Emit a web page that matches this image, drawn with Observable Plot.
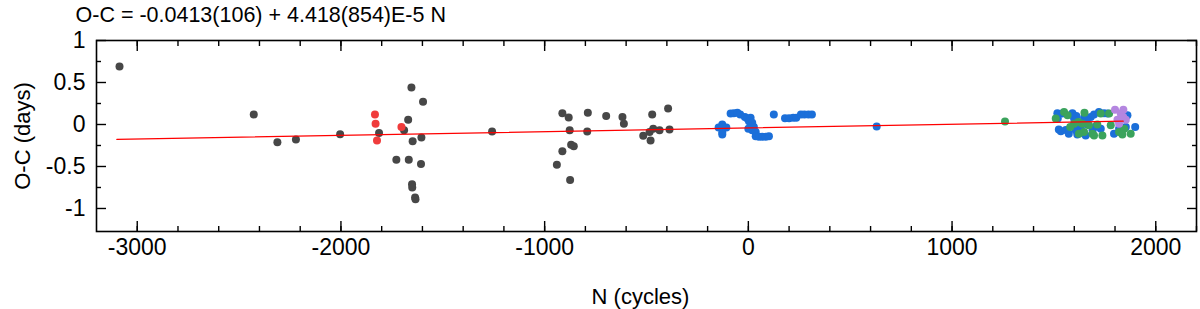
<!DOCTYPE html>
<html>
<head>
<meta charset="utf-8">
<script src="https://cdn.jsdelivr.net/npm/d3@7"></script>
<script src="https://cdn.jsdelivr.net/npm/@observablehq/plot@0.6"></script>
<style>
  html, body { margin: 0; padding: 0; background: white; }
  svg { display: block; }
</style>
</head>
<body>
<div id="chart"></div>
<script>
const titleText = "O-C = -0.0413(106) + 4.418(854)E-5 N";
const xLabel = "N (cycles)";
const yLabel = "O-C (days)";

const xMajor = [-3000, -2000, -1000, 0, 1000, 2000];
const xMinor = [-3000,-2800,-2600,-2400,-2200,-2000,-1800,-1600,-1400,-1200,-1000,-800,-600,-400,-200,0,200,400,600,800,1000,1200,1400,1600,1800,2000,2200];
const yMajor = [-1, -0.5, 0, 0.5, 1];
const yMinor = [-0.75, -0.25, 0.25, 0.75];

// fit coefficients (from title) and its extent in N
const fitIntercept = -0.0413;
const fitSlope = 4.418e-5;
const fitN = [-3100, 1840];

const grayN = [-3087,-2428,-2312,-2221,-2004,-1813,-1728,-1690,-1670,-1667,-1654,-1648,-1651,-1650,-1636,-1634,-1597,-1605,-1607,-1258,-913,-882,-877,-870,-857,-913,-940,-875,-788,-791,-698,-618,-611,-516,-480,-485,-467,-472,-436,-394,-387];
const grayOC = [0.69,0.12,-0.21,-0.18,-0.115,-0.10,-0.42,-0.07,0.055,-0.42,0.44,-0.20,-0.71,-0.75,-0.87,-0.89,0.27,-0.155,-0.47,-0.083,0.135,0.083,-0.07,-0.24,-0.26,-0.32,-0.48,-0.66,0.14,-0.083,0.10,0.09,0.01,-0.135,-0.19,-0.09,-0.05,0.12,-0.07,0.19,-0.06];

const redN = [-1833,-1830,-1823,-1703];
const redOC = [0.12,0.01,-0.19,-0.03];

const blueN = [-128,-146,-108,-128,-128,-128,-87,-71,-54,-40,-17,-5,11,3,19,11,27,19,36,0,36,52,68,85,101,125,180,200,220,235,258,275,295,312,630,
  1517,1519,1524,1534,1558,1573,1591,1599,1607,1615,1648,1656,1681,1697,1721,1746,1705,1730,1763,1795,1820,1853,1861,1899,1632,1665,1540,1610,1660,1690];
const blueOC = [0.0,-0.035,-0.035,-0.095,-0.035,-0.12,0.13,0.135,0.14,0.12,0.09,0.07,0.08,0.04,0.02,-0.02,-0.03,-0.07,-0.09,-0.05,-0.14,-0.145,-0.145,-0.145,-0.14,0.12,0.075,0.075,0.08,0.08,0.12,0.12,0.12,0.12,-0.025,
  0.135,0.07,-0.06,-0.08,-0.065,-0.11,0.135,0.07,-0.07,-0.12,0.08,-0.13,0.09,0.12,0.15,0.135,-0.025,-0.05,0.13,-0.11,-0.05,-0.03,0.11,-0.03,-0.03,0.0,0.13,0.1,0.05,-0.07];

const greenN = [1260,1550,1567,1509,1640,1648,1672,1689,1713,1730,1738,1771,1779,1820,1845,1877,1623,1599,1650,1697,1836,1580,1620];
const greenOC = [0.035,0.15,0.11,0.07,0.01,-0.09,-0.01,-0.11,0.0,0.13,-0.13,0.13,-0.01,-0.09,-0.05,-0.11,-0.11,0.01,0.14,-0.13,-0.12,-0.03,0.03];

const purpleN = [1800,1841,1812,1853,1820,1828,1840];
const purpleOC = [0.175,0.175,0.055,0.055,0.01,0.13,0.09];

const toRows = (ns, ys) => ns.map((n, i) => ({n, oc: ys[i]}));
const gray = toRows(grayN, grayOC);
const red = toRows(redN, redOC);
const blue = toRows(blueN, blueOC);
const green = toRows(greenN, greenOC);
const purple = toRows(purpleN, purpleOC);
const fit = fitN.map(n => ({n, oc: fitIntercept + fitSlope * n}));

const R = 4;
const tickStroke = 1.4;
const empty = () => "";

const chart = Plot.plot({
  width: 1200,
  height: 309,
  marginLeft: 96,
  marginRight: 4,
  marginTop: 40,
  marginBottom: 78,
  x: {domain: [-3200, 2200]},
  y: {domain: [-1.274, 1]},
  style: {fontFamily: "'Liberation Sans', Arial, sans-serif", background: "white", color: "black", overflow: "visible"},
  marks: [
    Plot.dot(gray, {x: "n", y: "oc", r: R, fill: "#474747"}),
    Plot.dot(red, {x: "n", y: "oc", r: R, fill: "#f03c3c"}),
    Plot.dot(blue, {x: "n", y: "oc", r: R, fill: "#1b6fd9"}),
    Plot.dot(green, {x: "n", y: "oc", r: R, fill: "#3ba35c"}),
    Plot.dot(purple, {x: "n", y: "oc", r: R, fill: "#b486e0"}),
    Plot.line(fit, {x: "n", y: "oc", stroke: "#ff0000", strokeWidth: 1.3}),
    // inward ticks on all four sides
    Plot.axisX({anchor: "bottom", ticks: xMinor, tickSize: -5, tickFormat: empty, label: null, strokeWidth: tickStroke}),
    Plot.axisX({anchor: "bottom", ticks: xMajor, tickSize: -10, tickFormat: empty, label: null, strokeWidth: tickStroke}),
    Plot.axisX({anchor: "top", ticks: xMinor, tickSize: -5, tickFormat: empty, label: null, strokeWidth: tickStroke}),
    Plot.axisX({anchor: "top", ticks: xMajor, tickSize: -10, tickFormat: empty, label: null, strokeWidth: tickStroke}),
    Plot.axisY({anchor: "left", ticks: yMinor, tickSize: -5, tickFormat: empty, label: null, strokeWidth: tickStroke}),
    Plot.axisY({anchor: "left", ticks: yMajor, tickSize: -10, tickFormat: empty, label: null, strokeWidth: tickStroke}),
    Plot.axisY({anchor: "right", ticks: yMinor, tickSize: -5, tickFormat: empty, label: null, strokeWidth: tickStroke}),
    Plot.axisY({anchor: "right", ticks: yMajor, tickSize: -10, tickFormat: empty, label: null, strokeWidth: tickStroke}),
    // tick labels
    Plot.axisX({anchor: "bottom", ticks: xMajor, tickSize: 0, tickPadding: 7, fontSize: 23, label: null, tickFormat: d => String(d)}),
    Plot.axisY({anchor: "left", ticks: yMajor, tickSize: 0, tickPadding: 11, fontSize: 23, label: null, tickFormat: d => String(d)}),
    Plot.frame({stroke: "black", strokeWidth: 1.6}),
    // titles
    Plot.text([titleText], {frameAnchor: "top-left", dx: -21, dy: -19, textAnchor: "start", lineAnchor: "bottom", fontSize: 21.5, fill: "black"}),
    Plot.text([yLabel], {frameAnchor: "left", dx: -74, rotate: -90, textAnchor: "middle", lineAnchor: "middle", fontSize: 22, fill: "black"}),
    Plot.text([xLabel], {frameAnchor: "bottom", dx: -6, dy: 65, textAnchor: "middle", lineAnchor: "middle", fontSize: 22, fill: "black"})
  ]
});
document.getElementById("chart").appendChild(chart);
</script>
</body>
</html>
